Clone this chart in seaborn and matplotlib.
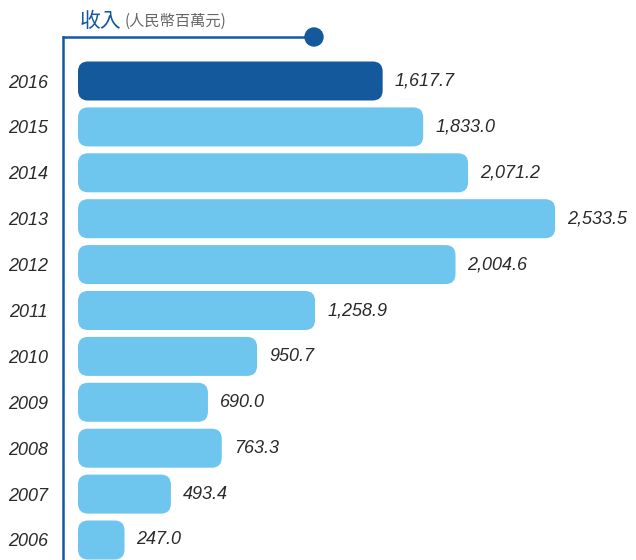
import matplotlib
matplotlib.use("Agg")
import matplotlib.pyplot as plt
import seaborn as sns
import pandas as pd
from matplotlib.patches import FancyBboxPatch, Circle
from matplotlib.lines import Line2D

years = ["2016", "2015", "2014", "2013", "2012", "2011", "2010", "2009", "2008", "2007", "2006"]
revenue = [1617.7, 1833.0, 2071.2, 2533.5, 2004.6, 1258.9, 950.7, 690.0, 763.3, 493.4, 247.0]
title_main = "收入"
title_unit = "(人民幣百萬元)"

dark_blue = "#15599d"
light_blue = "#6ec6ef"
text_col = "#2a2a2a"

df = pd.DataFrame({"year": years, "revenue": revenue})
colors = {y: (dark_blue if i == 0 else light_blue) for i, y in enumerate(years)}

sns.set_theme(style="white")
plt.rcParams["font.family"] = ["Liberation Sans", "Noto Sans CJK TC", "DejaVu Sans"]

W, H = 636, 560
fig = plt.figure(figsize=(W / 100, H / 100), dpi=100)
# axes spans x 63..636 px, y 37..560 px
ax = fig.add_axes([63 / W, 0, 1 - 63 / W, (H - 37) / H])

sns.barplot(data=df, x="revenue", y="year", hue="year", palette=colors,
            order=years, legend=False, width=0.85, ax=ax, saturation=1)

xpp = 5.31          # data units per pixel in x
ax.set_xlim(-15 * xpp, (W - 78) * xpp)
ypp = 45.9
ax.set_ylim(10 + 20 / ypp, -(81 - 37) / ypp)

# swap plain bars for rounded ones
for p in list(ax.patches):
    x0, y0 = p.get_x(), p.get_y()
    w, h = p.get_width(), p.get_height()
    fc = p.get_facecolor()
    p.remove()
    rb = FancyBboxPatch((x0, y0), w, h,
                        boxstyle=f"round,pad=0,rounding_size={10 * xpp}",
                        mutation_aspect=(1 / ypp) / xpp,
                        facecolor=fc, edgecolor="none")
    ax.add_patch(rb)

for i, v in enumerate(revenue):
    ax.text(v + 12 * xpp, i, f"{v:,.1f}", va="center", ha="left",
            fontsize=13, style="italic", color=text_col)

ax.set_xlabel("")
ax.set_ylabel("")
ax.set_xticks([])
ax.tick_params(axis="y", length=0, pad=11)
for lab in ax.get_yticklabels():
    lab.set_fontstyle("italic")
    lab.set_fontsize(13)
    lab.set_color(text_col)

for s in ["top", "right", "bottom"]:
    ax.spines[s].set_visible(False)
ax.spines["left"].set_color(dark_blue)
ax.spines["left"].set_linewidth(1.8)

# top bracket line with dot
fig.add_artist(Line2D([63 / W, 314 / W], [1 - 37 / H, 1 - 37 / H],
                      color=dark_blue, lw=1.8, transform=fig.transFigure))
fig.add_artist(Circle((314, H - 37), 9, color=dark_blue, transform=None))

fig.text(80 / W, 1 - 21 / H, title_main, fontsize=15, color=dark_blue,
         family=["Noto Sans CJK TC"], weight="medium", va="center", ha="left")
fig.text(125 / W, 1 - 21 / H, title_unit, fontsize=11, color="#666666",
         family=["Noto Sans CJK TC"], va="center", ha="left")

fig.savefig("out.png", dpi=100)
